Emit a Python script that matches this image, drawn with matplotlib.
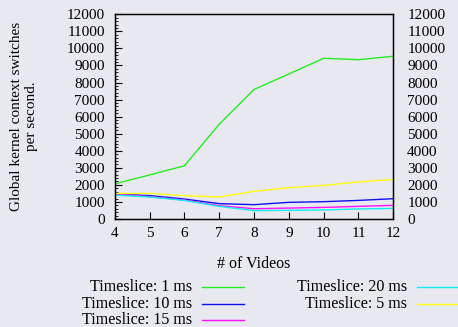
import matplotlib.pyplot as plt
from matplotlib.ticker import AutoMinorLocator, MultipleLocator
from matplotlib.lines import Line2D

plt.rcParams['font.family'] = ['Liberation Serif', 'DejaVu Serif']
plt.rcParams['font.size'] = 11

# data
videos = [4, 5, 6, 7, 8, 9, 10, 11, 12]
ts_1 = [2060, 2580, 3120, 5550, 7590, 8500, 9420, 9340, 9540]
ts_10 = [1460, 1370, 1170, 900, 840, 975, 1015, 1090, 1190]
ts_15 = [1460, 1310, 1110, 780, 600, 640, 680, 740, 800]
ts_20 = [1400, 1290, 1090, 740, 490, 510, 530, 590, 620]
ts_5 = [1500, 1500, 1365, 1290, 1620, 1835, 1970, 2170, 2320]

series = [
    ('Timeslice: 1 ms', ts_1, '#22ee22'),
    ('Timeslice: 10 ms', ts_10, '#1010ee'),
    ('Timeslice: 15 ms', ts_15, '#ff10ff'),
    ('Timeslice: 20 ms', ts_20, '#10eeee'),
    ('Timeslice: 5 ms', ts_5, '#ffff10'),
]

bg = '#e8e8f0'
fig = plt.figure(figsize=(4.58, 3.27), dpi=100)
fig.patch.set_facecolor(bg)
ax = fig.add_axes([0.2504, 0.3303, 0.6084, 0.626])
ax.set_facecolor(bg)

for label, vals, c in series:
    ax.plot(videos, vals, color=c, linewidth=1.0)

ax.set_xlim(4, 12)
ax.set_ylim(0, 12000)
ax.xaxis.set_major_locator(MultipleLocator(1))
ax.yaxis.set_major_locator(MultipleLocator(1000))
ax.yaxis.set_minor_locator(AutoMinorLocator(5))
ax.tick_params(axis='y', which='both', direction='in', left=True, right=True,
               labelleft=True, labelright=False, pad=7)
ax.tick_params(axis='y', which='major', length=5, width=0.8)
ax.tick_params(axis='y', which='minor', length=2.5, width=0.6)
ax.tick_params(axis='x', which='major', direction='in', length=5, width=0.8,
               top=False, pad=6)
for s in ax.spines.values():
    s.set_linewidth(1.0)

# right-hand labels, further from the frame
ax_r = ax.twinx()
ax_r.set_ylim(ax.get_ylim())
ax_r.yaxis.set_major_locator(MultipleLocator(1000))
ax_r.tick_params(axis='y', which='both', length=0, pad=10)

ax.set_xlabel('# of Videos', fontsize=11.5, labelpad=11)
fig.text(24 / 458, 0.6437, 'Global kernel context switches\nper second.',
         rotation=90, ha='center', va='center', multialignment='center',
         fontsize=11)

# legend drawn as text + line samples in figure coords
rows = [0.121, 0.071, 0.021]
entries = [
    (0.419, 0.441, 0.533, series[0]),
    (0.419, 0.441, 0.533, series[1]),
    (0.419, 0.441, 0.533, series[2]),
    (0.889, 0.911, 1.003, series[3]),
    (0.889, 0.911, 1.003, series[4]),
]
row_idx = [0, 1, 2, 0, 1]
for (tx, lx0, lx1, (label, vals, c)), r in zip(entries, row_idx):
    y = rows[r]
    fig.text(tx, y, label, ha='right', va='center', fontsize=11.6)
    fig.add_artist(Line2D([lx0, lx1], [y, y], color=c, linewidth=1.0,
                          transform=fig.transFigure))

fig.savefig('out.png', dpi=100, facecolor=bg)
